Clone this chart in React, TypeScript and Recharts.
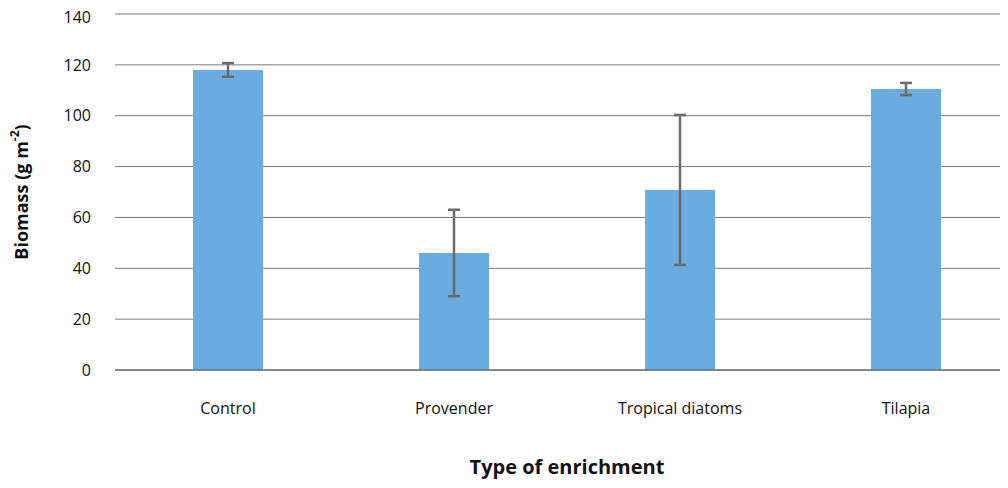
import React from 'react';
import { BarChart, Bar, XAxis, YAxis, CartesianGrid, ErrorBar, Label } from 'recharts';

const categories = ['Control', 'Provender', 'Tropical diatoms', 'Tilapia'];
const biomass = [118, 46, 70.8, 110.5];
const errors = [2.7, 17, 29.5, 2.4];
const yTicks = [0, 20, 40, 60, 80, 100, 120, 140];

const data = categories.map((c, i) => ({ name: c, v: biomass[i], err: errors[i] }));
const font = "'Open Sans', sans-serif";

const YLabel = (props: any) => {
  const vb = props.viewBox || {};
  const cy = vb.y + vb.height / 2;
  const cx = 13;
  return (
    <text x={cx} y={cy} transform={`rotate(-90 ${cx} ${cy})`} textAnchor="middle" dominantBaseline="central"
      fontFamily={font} fontSize={18} fontWeight="bold" fill="#111">
      Biomass (g m<tspan dy={-7} fontSize={12}>-2</tspan><tspan dy={7}>)</tspan>
    </text>
  );
};

export default function App() {
  return (
    <div style={{ width: 1000, height: 480, overflow: 'hidden' }}>
      <BarChart width={1011} height={480} data={data} margin={{ top: 6, right: 0, bottom: 8, left: 0 }}>
        <CartesianGrid vertical={false} stroke="#7a7a7a" />
        <XAxis dataKey="name" tickLine={false} axisLine={{ stroke: '#555' }} height={110}
          tick={{ fontFamily: font, fontSize: 16, fill: '#111' }} tickMargin={27}>
          <Label value="Type of enrichment" position="insideBottom" offset={6}
            style={{ fontFamily: font, fontSize: 20, fontWeight: 'bold', fill: '#111' }} />
        </XAxis>
        <YAxis domain={[0, 140]} ticks={yTicks} tickLine={false} axisLine={false} width={107}
          tick={{ fontFamily: font, fontSize: 16, fill: '#111' }} tickMargin={18}>
          <Label content={<YLabel />} />
        </YAxis>
        <Bar dataKey="v" fill="#6aabe0" barSize={70} isAnimationActive={false}>
          <ErrorBar dataKey="err" width={6} stroke="#6b6b6b" strokeWidth={2.5} />
        </Bar>
      </BarChart>
    </div>
  );
}
